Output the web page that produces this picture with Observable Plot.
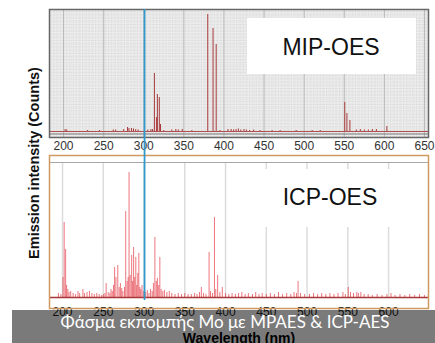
<!DOCTYPE html>
<html>
<head>
<meta charset="utf-8">
<script src="https://cdn.jsdelivr.net/npm/d3@7"></script>
<script src="https://cdn.jsdelivr.net/npm/@observablehq/plot@0.6"></script>
<style>
  html, body { margin: 0; padding: 0; background: #fff; }
  #wrap { position: relative; width: 435px; height: 343px; overflow: hidden; font-family: "Liberation Sans", Arial, sans-serif; }
  #wrap > div.p { position: absolute; left: 0; }
  #wrap svg { display: block; background: transparent; overflow: visible; }
  .box { position: absolute; background: #fff; }
  .lbl { position: absolute; font-size: 23px; color: #111; text-align: center; }
</style>
</head>
<body>
<div id="wrap"></div>
<script>
// ---- data ----
const xTicksMip = [200, 250, 300, 350, 400, 450, 500, 550, 600, 650];
const xTicksIcp = [200, 250, 300, 350, 400, 450, 500, 550, 600];
const markerWave = [301];

const mipWave = [
  202, 204, 230, 245, 262, 265, 275, 279.8, 281.6, 284.8,
  287.2, 290, 293, 305, 309, 311, 313.3, 315.8, 317.0, 319.4,
  320.9, 325, 335, 340, 343, 348, 360, 379.8, 386.4, 390.3,
  395, 405, 409, 412, 415, 418, 421, 425, 428, 432,
  437, 445, 460, 470, 490, 510, 520, 550.6, 553.3, 557.0,
  565, 570, 575, 580, 585, 590, 603.1];
const mipCounts = [
  2, 1.5, 1, 1, 1.5, 1.5, 2, 4, 3, 3,
  2.5, 2, 1.5, 1.5, 2, 2, 58, 14, 37, 34,
  7, 1, 1.5, 2, 1.5, 2, 1, 117, 103, 87,
  1, 2, 2, 1.5, 2, 2.5, 1.5, 2, 1.5, 1,
  1.5, 1, 1, 1, 1, 1, 1, 29, 18, 11,
  1.5, 2, 1.5, 1.5, 2, 2, 5];

const icpWave = [
  195, 198, 200.5, 202.0, 203.8, 205, 206.5, 208, 210, 213,
  216, 219, 221, 225, 227, 230, 233, 236, 239, 242,
  245, 248, 250, 252, 253.5, 256, 258, 259.5, 261, 262.5,
  263.9, 265.5, 267.8, 269.5, 271, 272.6, 274, 276, 277.5, 279.2,
  280.5, 281.6, 283, 284.8, 286, 287.2, 288.5, 289.9, 291, 292.3,
  293.6, 294.8, 296, 297.5, 299, 302, 304, 306, 308, 310,
  311.5, 313.3, 315, 316.4, 318, 319.4, 321, 323, 325, 328,
  331, 334, 338, 342, 346, 350, 354, 358, 362, 365,
  368, 370.3, 373, 376, 379.8, 381.5, 384, 386.4, 388, 390.3,
  393, 396, 400, 404, 408, 412, 416, 420, 424, 428,
  433, 437, 441, 445, 450, 455, 460, 465, 470, 475,
  480, 484, 487, 489, 492, 497, 503, 508, 513, 518,
  523, 528, 533, 538, 544, 547, 550.6, 553.3, 557, 561,
  563, 566, 570, 575, 580, 586, 592, 598, 603, 608,
  614, 620, 626, 632, 638, 644];
const icpCounts = [
  4, 3, 20, 75, 48, 12, 8, 5, 6, 4,
  3, 6, 4, 8, 4, 5, 6, 4, 3, 4,
  3, 2, 3, 4, 14, 5, 4, 8, 6, 12,
  30, 20, 32, 10, 14, 9, 6, 10, 86, 16,
  20, 125, 22, 42, 16, 50, 20, 40, 12, 24,
  44, 10, 8, 12, 6, 5, 7, 4, 8, 6,
  14, 60, 16, 19, 12, 40, 8, 6, 7, 5,
  6, 4, 3, 4, 3, 4, 3, 3, 4, 3,
  5, 10, 4, 3, 45, 6, 4, 80, 8, 22,
  5, 10, 4, 3, 4, 3, 4, 5, 3, 4,
  3, 5, 3, 4, 3, 4, 3, 5, 3, 4,
  3, 5, 4, 16, 4, 3, 3, 4, 3, 4,
  3, 4, 3, 4, 5, 3, 10, 5, 4, 5,
  4, 5, 3, 3, 2, 3, 2, 3, 4, 2,
  3, 2, 3, 2, 3, 2];

const mip = mipWave.map((w, i) => ({w, c: mipCounts[i]}));
const icp = icpWave.map((w, i) => ({w, c: icpCounts[i]}));

const xDomainMip = [182.5, 655];
const xDomainIcp = [184, 649];
const font = "'Liberation Sans', Arial, sans-serif";
const wrap = document.getElementById("wrap");

function place(el, topPx, z) {
  const d = document.createElement("div");
  d.className = "p";
  d.style.top = topPx + "px";
  d.style.zIndex = z;
  d.appendChild(el);
  wrap.appendChild(d);
  return d;
}

// ---- top panel: MIP-OES ----
const mipPlot = Plot.plot({
  width: 435, height: 155,
  marginLeft: 49, marginRight: 7, marginTop: 9, marginBottom: 18,
  style: {fontFamily: font, background: "transparent", overflow: "visible"},
  x: {domain: xDomainMip},
  y: {domain: [-6, 122], axis: null},
  marks: [
    Plot.frame({fill: "#ececec"}),
    Plot.gridX({ticks: d3.range(184, 655, 4), stroke: "#cfcfcf", strokeOpacity: 1, strokeWidth: 0.6, strokeDasharray: "1,1.2"}),
    Plot.gridY({ticks: d3.range(-5, 122, 3.2), stroke: "#cfcfcf", strokeOpacity: 1, strokeWidth: 0.6, strokeDasharray: "1,1.2"}),
    Plot.gridX(xTicksMip, {stroke: "#b4b4b4", strokeOpacity: 1, strokeWidth: 0.9}),
    Plot.ruleY([-2.5], {stroke: "#7a7a7a", strokeWidth: 1}),
    Plot.ruleY([0], {stroke: "#b05050", strokeWidth: 1}),
    Plot.ruleX(mip, {x: "w", y1: 0, y2: "c", stroke: "#a83a3a", strokeWidth: 1}),
    Plot.axisX(xTicksMip, {tickSize: 0, tickPadding: 4, fontSize: 12, color: "#333", label: null}),
    Plot.frame({stroke: "#666", strokeWidth: 1.5})
  ]
});
place(mipPlot, 0, 1);

// ---- bottom panel: ICP-OES ----
const icpPlot = Plot.plot({
  width: 435, height: 193,
  marginLeft: 49, marginRight: 7, marginTop: 5, marginBottom: 35,
  style: {fontFamily: font, background: "transparent"},
  x: {domain: xDomainIcp},
  y: {domain: [-11, 142], axis: null},
  marks: [
    Plot.frame({fill: "#fff"}),
    Plot.ruleX(xTicksIcp, {y1: 0, y2: 135, stroke: "#dcdcdc", strokeWidth: 1.5}),
    Plot.ruleY([135], {stroke: "#a8a8a8", strokeWidth: 1}),
    Plot.ruleX(icp, {x: "w", y1: 0, y2: "c", stroke: "#e0222e", strokeOpacity: 0.62, strokeWidth: 1}),
    Plot.ruleY([0], {stroke: "#a83838", strokeWidth: 1.5}),
    Plot.axisX(xTicksIcp, {tickSize: 0, tickPadding: -1, fontSize: 12, color: "#222", label: null}),
    Plot.frame({stroke: "#cf9a62", strokeWidth: 1.5})
  ]
});
place(icpPlot, 150, 1);

// white label box in bottom panel (hides gridlines behind the label)
const b2 = document.createElement("div");
b2.className = "box";
Object.assign(b2.style, {left: "247px", top: "169px", width: "170px", height: "58px", zIndex: 2});
wrap.appendChild(b2);

// white label box in top panel
const b1 = document.createElement("div");
b1.className = "box";
Object.assign(b1.style, {left: "247px", top: "18px", width: "169px", height: "56px", zIndex: 2});
wrap.appendChild(b1);

function label(text, cx, topPx) {
  const l = document.createElement("div");
  l.className = "lbl";
  l.textContent = text;
  Object.assign(l.style, {left: (cx - 80) + "px", width: "160px", top: topPx + "px", lineHeight: "26px", zIndex: 3});
  wrap.appendChild(l);
}
label("MIP-OES", 331, 34);
label("ICP-OES", 330, 184);

// ---- marker line spanning both panels ----
const markerPlot = Plot.plot({
  width: 435, height: 343,
  marginLeft: 49, marginRight: 7, marginTop: 9, marginBottom: 43,
  style: {background: "transparent"},
  x: {domain: xDomainMip, axis: null},
  y: {axis: null},
  marks: [Plot.ruleX(markerWave, {stroke: "#3399cc", strokeWidth: 1.8})]
});
place(markerPlot, 0, 4);

// ---- axis titles ----
const yl = document.createElement("div");
Object.assign(yl.style, {position: "absolute", left: "34px", top: "163px", transform: "translate(-50%,-50%) rotate(-90deg)",
  whiteSpace: "nowrap", fontWeight: "bold", fontSize: "14.5px", color: "#111", zIndex: 5});
yl.textContent = "Emission intensity (Counts)";
wrap.appendChild(yl);

const xl = document.createElement("div");
Object.assign(xl.style, {position: "absolute", left: "239px", top: "338px", transform: "translate(-50%,-50%)",
  whiteSpace: "nowrap", fontWeight: "bold", fontSize: "14px", color: "#000", zIndex: 5});
xl.textContent = "Wavelength (nm)";
wrap.appendChild(xl);

// ---- caption bar ----
const cap = document.createElement("div");
Object.assign(cap.style, {position: "absolute", left: "12px", top: "310px", width: "423px", height: "33px",
  background: "rgba(0,0,0,0.52)", zIndex: 6});
wrap.appendChild(cap);
const capText = document.createElement("div");
Object.assign(capText.style, {position: "absolute", left: "0px", width: "450px", top: "312px", textAlign: "center",
  color: "#fff", fontFamily: "Lato, 'Noto Sans', sans-serif", fontSize: "17px", lineHeight: "20px", zIndex: 7});
capText.textContent = "Φάσμα εκπομπής Mo με MPAES & ICP-AES";
wrap.appendChild(capText);
</script>
</body>
</html>
